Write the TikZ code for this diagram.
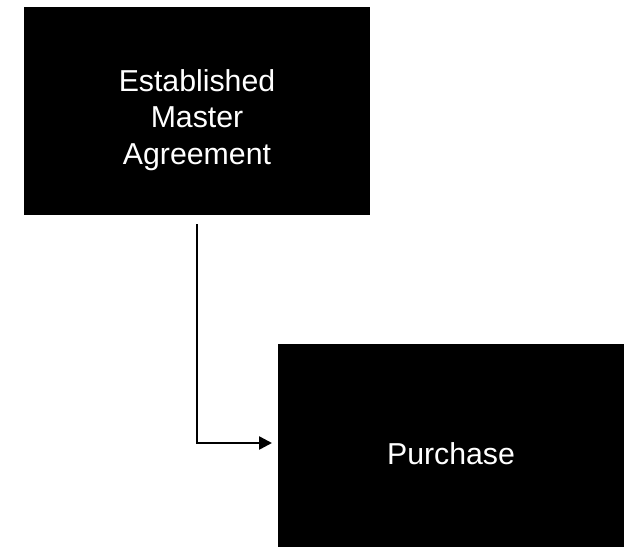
\documentclass[tikz,border=0pt]{standalone}
\usepackage{fontspec}
\setmainfont{Liberation Sans}
\usetikzlibrary{arrows.meta}
\tikzset{>={Triangle[length=9.75pt,width=9.75pt]},inner sep=0pt, outer sep=0pt,}
\tikzset{blackbox/.style={fill=black,text=white,align=center,minimum width=259.5pt,font=\fontsize{22.7}{27.5}\selectfont}}

\begin{document}
\begin{tikzpicture}[x=0.75pt,y=-0.75pt]
			\useasboundingbox (0,0) rectangle (626,547);
			\node[blackbox,minimum height=156pt] (EMA) at (197,111) {\rule{0pt}{30pt}Established\\Master\\Agreement};
			\node[blackbox,minimum height=165pt] (P) at (451,454) {Purchase};
			\coordinate (Turn) at (EMA.south |- 0,443);
			\coordinate (Tip) at (P.west |- Turn);
			\draw[line width=1.9pt,->,shorten <=6.75pt,shorten >=4.5pt] (EMA.south)--(Turn)--(Tip);
		\end{tikzpicture}
\end{document}
